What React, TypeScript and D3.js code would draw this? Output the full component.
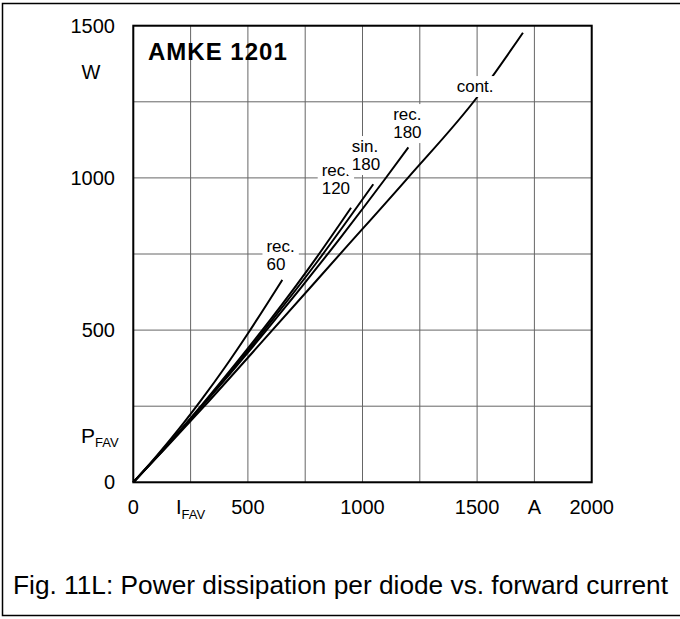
import React, { useEffect, useRef } from 'react';
import * as d3 from 'd3';

// forward current I_FAV (A) and power dissipation P_FAV (W)
const rec60I = [0, 100, 200, 300, 400, 500, 650];
const rec60P = [0, 85, 176, 274, 378, 489, 665];

const rec120I = [0, 150, 300, 450, 600, 800, 950];
const rec120P = [0, 124, 255, 393, 536, 739, 902];

const sin180I = [0, 150, 300, 450, 600, 800, 1047];
const sin180P = [0, 123, 252, 386, 527, 722, 979];

const rec180I = [0, 150, 300, 600, 900, 1100, 1200];
const rec180P = [0, 122, 250, 517, 800, 998, 1100];

const contI = [0, 150, 300, 600, 900, 1200, 1500, 1700];
const contP = [0, 120, 242, 494, 748, 1002, 1265, 1477];

const xGrid = [0, 250, 500, 750, 1000, 1250, 1500, 1750, 2000];
const yGrid = [0, 250, 500, 750, 1000, 1250, 1500];
const xTickLabels = ['0', 'I|FAV', '500', '', '1000', '', '1500', 'A', '2000'];
const yTickLabels = ['0', '', '500', '', '1000', '', '1500'];

const curveNames = ['rec.|60', 'rec.|120', 'sin.|180', 'rec.|180', 'cont.'];

const FONT = '"Liberation Sans", Arial, Helvetica, sans-serif';

const App = () => {
  const ref = useRef<SVGSVGElement>(null);

  useEffect(() => {
    const svg = d3.select(ref.current);
    svg.selectAll('*').remove();

    const x = d3.scaleLinear().domain([0, 2000]).range([133.3, 591.7]);
    const y = d3.scaleLinear().domain([0, 1500]).range([482.3, 25.7]);

    // outer frame
    svg.append('rect')
      .attr('x', 2.5).attr('y', 3.5)
      .attr('width', 690).attr('height', 612)
      .attr('fill', 'none').attr('stroke', '#000').attr('stroke-width', 1.5);

    // grid
    const grid = svg.append('g').attr('stroke', '#666').attr('stroke-width', 1);
    grid.selectAll('line.v').data(xGrid).enter().append('line')
      .attr('x1', d => x(d)).attr('x2', d => x(d))
      .attr('y1', y(0)).attr('y2', y(1500));
    grid.selectAll('line.h').data(yGrid).enter().append('line')
      .attr('x1', x(0)).attr('x2', x(2000))
      .attr('y1', d => y(d)).attr('y2', d => y(d));

    // curves
    const series = [
      [rec60I, rec60P], [rec120I, rec120P], [sin180I, sin180P], [rec180I, rec180P], [contI, contP],
    ];
    const line = d3.line<[number, number]>()
      .x(d => x(d[0])).y(d => y(d[1]))
      .curve(d3.curveMonotoneX);
    svg.append('g').selectAll('path').data(series).enter().append('path')
      .attr('d', s => line(s[0].map((v, i) => [v, s[1][i]] as [number, number])))
      .attr('fill', 'none').attr('stroke', '#000').attr('stroke-width', 2);

    // frame of the plot
    svg.append('rect')
      .attr('x', x(0)).attr('y', y(1500))
      .attr('width', x(2000) - x(0)).attr('height', y(0) - y(1500))
      .attr('fill', 'none').attr('stroke', '#000').attr('stroke-width', 2);

    // curve labels, anchored in data units (left edge, first baseline)
    const labelAnchors: [number, number][] = [
      [581, 757], [822, 1006], [953, 1085], [1134, 1190], [1411, 1282],
    ];
    curveNames.forEach((name, i) => {
      const g = svg.append('g');
      const t = g.append('text')
        .attr('x', x(labelAnchors[i][0])).attr('y', y(labelAnchors[i][1]))
        .attr('font-family', FONT).attr('font-size', 17);
      name.split('|').forEach((s, k) => {
        t.append('tspan').attr('x', x(labelAnchors[i][0])).attr('dy', k === 0 ? 0 : 18).text(s);
      });
      const bb = (t.node() as SVGTextElement).getBBox();
      g.insert('rect', 'text')
        .attr('x', bb.x - 4).attr('y', bb.y - 1)
        .attr('width', bb.width + 8).attr('height', bb.height + 2)
        .attr('fill', '#fff');
    });

    // y tick labels
    svg.append('g').selectAll('text').data(yGrid).enter().append('text')
      .attr('x', 115).attr('y', d => y(d) + 7)
      .attr('text-anchor', 'end')
      .attr('font-family', FONT).attr('font-size', 20)
      .text((d, i) => yTickLabels[i]);

    // x tick labels
    xGrid.forEach((d, i) => {
      const lab = xTickLabels[i];
      if (!lab) return;
      const t = svg.append('text')
        .attr('x', x(d)).attr('y', 514)
        .attr('text-anchor', 'middle')
        .attr('font-family', FONT).attr('font-size', 20);
      if (lab.includes('|')) {
        const [a, b] = lab.split('|');
        t.append('tspan').text(a);
        t.append('tspan').attr('font-size', 13).attr('dy', 5).text(b);
      } else {
        t.text(lab);
      }
    });

    // axis units
    svg.append('text')
      .attr('x', 91).attr('y', 79).attr('text-anchor', 'middle')
      .attr('font-family', FONT).attr('font-size', 20).text('W');
    const pf = svg.append('text')
      .attr('x', 81).attr('y', 443)
      .attr('font-family', FONT).attr('font-size', 21);
    pf.append('tspan').text('P');
    pf.append('tspan').attr('font-size', 13).attr('dy', 4).text('FAV');

    // device name
    svg.append('text')
      .attr('x', 148).attr('y', 60)
      .attr('font-family', FONT).attr('font-size', 24).attr('font-weight', 'bold')
      .attr('letter-spacing', 1)
      .text('AMKE 1201');

    // caption
    svg.append('text')
      .attr('x', 13).attr('y', 594)
      .attr('font-family', FONT).attr('font-size', 25)
      .attr('textLength', 655).attr('lengthAdjust', 'spacingAndGlyphs')
      .text('Fig. 11L: Power dissipation per diode vs. forward current');
  }, []);

  return (
    <>
      <style>{'body{margin:0}'}</style>
      <svg ref={ref} width={680} height={619} style={{ display: 'block', background: '#fff' }} />
    </>
  );
};

export default App;
